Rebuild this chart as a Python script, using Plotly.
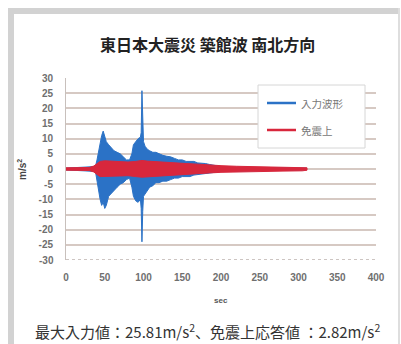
import plotly.graph_objects as go

# Input acceleration record (north-south component), envelope of the trace in m/s^2
input_t = [0, 38, 40, 42, 44, 46, 48, 50, 52, 55, 58, 62, 66, 70, 74, 78, 82, 85, 87, 90,
           93, 96, 97, 98, 99, 100, 102, 105, 108, 112, 116, 120, 125, 130, 135, 140, 145,
           150, 155, 160, 165, 170, 175, 180, 185, 190, 195, 200, 210, 230, 250, 270, 290, 310]
input_hi = [0.3, 0.8, 3, 6, 9, 11, 12.5, 11, 9, 8, 7, 6, 5.5, 5, 4, 3, 3, 5, 8, 9,
            10, 10.5, 12, 25.81, 12, 9, 7.5, 6.5, 6, 5.5, 5.5, 5, 4.5, 4.2, 4, 3.5, 3,
            3, 2.5, 2.5, 2.5, 2, 2, 1.8, 1.5, 1.2, 1, 0.8, 0.6, 0.5, 0.5, 0.4, 0.4, 0.3]
input_lo = [-0.3, -0.8, -3, -7, -10, -12, -11, -13, -12, -9, -8, -7, -6, -5, -4.5, -3.5, -3, -6, -9, -10.5,
            -11, -10, -13, -24, -14, -9, -8, -7, -6, -5.5, -4.5, -4.5, -4, -4, -3.5, -3, -3,
            -2.5, -2.5, -2.5, -2, -2, -1.8, -1.6, -1.4, -1.2, -1, -0.8, -0.6, -0.5, -0.5, -0.4, -0.4, -0.3]

# Response on the isolated floor (免震上), envelope in m/s^2
resp_t = [0, 30, 36, 40, 44, 50, 60, 70, 80, 90, 98, 105, 115, 125, 140, 155, 170, 185,
          200, 220, 250, 280, 305, 311]
resp_hi = [0.4, 0.5, 1, 1.8, 2.5, 2.7, 2.5, 2.4, 2.3, 2.5, 2.82, 2.6, 2.4, 2.2, 2.0, 1.8, 1.6, 1.3,
           1.1, 0.9, 0.8, 0.7, 0.6, 0.4]
resp_lo = [-0.4, -0.5, -1, -1.8, -2.5, -2.6, -2.4, -2.3, -2.2, -2.5, -2.7, -2.5, -2.3, -2.1, -1.9, -1.7, -1.5, -1.3,
           -1.1, -0.9, -0.8, -0.7, -0.6, -0.4]

series_names = ["入力波形", "免震上"]
series_colors = ["#2b72c6", "#d8273c"]

x_ticks = [0, 50, 100, 150, 200, 250, 300, 350, 400]
y_ticks = [30, 25, 20, 15, 10, 5, 0, -5, -10, -15, -20, -25, -30]

title_text = "東日本大震災 築館波 南北方向"
caption_text = "最大入力値：25.81m/s<sup>2</sup>、免震上応答値 ：2.82m/s<sup>2</sup>"

W, H = 401, 344
L, R, T, B = 66, 25, 78, 84
PW, PH = W - L - R, H - T - B


def px(x):
    return (x - L) / PW


def py(y):
    return (H - B - y) / PH


def band(t, hi, lo):
    return list(t) + list(t[::-1]), list(hi) + list(lo[::-1])


fig = go.Figure()
for (t, hi, lo), name, col in zip([(input_t, input_hi, input_lo), (resp_t, resp_hi, resp_lo)],
                                   series_names, series_colors):
    bx, by = band(t, hi, lo)
    fig.add_trace(go.Scatter(x=bx, y=by, fill="toself", fillcolor=col, mode="lines",
                             line=dict(color=col, width=1), name=name, showlegend=False,
                             hoverinfo="skip"))

shapes = []
# outer frame
frame = "#d2d2d2"
shapes.append(dict(type="rect", xref="paper", yref="paper", x0=px(8), x1=px(14), y0=py(346), y1=py(8),
                   fillcolor=frame, line=dict(width=0), layer="below"))
shapes.append(dict(type="rect", xref="paper", yref="paper", x0=px(8), x1=px(400), y0=py(14), y1=py(8),
                   fillcolor=frame, line=dict(width=0), layer="below"))
shapes.append(dict(type="rect", xref="paper", yref="paper", x0=px(398), x1=px(400), y0=py(346), y1=py(8),
                   fillcolor="#dedede", line=dict(width=0), layer="below"))

# dotted category axis along the bottom of the plot
shapes.append(dict(type="line", xref="paper", yref="y", x0=0, x1=1, y0=-30, y1=-30,
                   line=dict(color="#bdb3ae", width=1.5, dash="dot"), layer="below"))

# legend box
lx0, lx1, ly0, ly1 = 258, 365, 85, 148
shapes.append(dict(type="rect", xref="paper", yref="paper", x0=px(lx0), x1=px(lx1), y0=py(ly1), y1=py(ly0),
                   fillcolor="white", line=dict(color="#d6d6d6", width=1), layer="above"))
annotations = []
for i, (name, col) in enumerate(zip(series_names, series_colors)):
    yy = 103 + 27 * i
    shapes.append(dict(type="line", xref="paper", yref="paper", x0=px(267), x1=px(296), y0=py(yy), y1=py(yy),
                       line=dict(color=col, width=2.5), layer="above"))
    annotations.append(dict(text=name, xref="paper", yref="paper", x=px(299), y=py(yy), xanchor="left",
                            yanchor="middle", showarrow=False,
                            font=dict(size=10.5, color="#777777", family="Noto Sans CJK JP")))

annotations.append(dict(text=title_text, xref="paper", yref="paper", x=px(207), y=py(44),
                        xanchor="center", yanchor="middle", showarrow=False,
                        font=dict(size=16, color="#222222", family="Noto Sans CJK JP", weight="bold")))
annotations.append(dict(text=caption_text, xref="paper", yref="paper", x=px(207), y=py(331),
                        xanchor="center", yanchor="middle", showarrow=False,
                        font=dict(size=15, color="#333333", family="Noto Sans CJK JP")))
annotations.append(dict(text="m/s<sup>2</sup>", xref="paper", yref="paper", x=px(22), y=py(170),
                        xanchor="center", yanchor="middle", showarrow=False, textangle=-90,
                        font=dict(size=10, color="#444444", family="Liberation Sans", weight="bold")))
annotations.append(dict(text="sec", xref="paper", yref="paper", x=px(221), y=py(300),
                        xanchor="center", yanchor="middle", showarrow=False,
                        font=dict(size=8, color="#555555", family="Liberation Sans", weight="bold")))

tick_font = dict(size=10, color="#6f6f6f", family="Liberation Sans Narrow, Liberation Sans", weight="bold")

fig.update_layout(
    width=W, height=H, margin=dict(l=L, r=R, t=T, b=B),
    paper_bgcolor="white", plot_bgcolor="white",
    shapes=shapes, annotations=annotations, showlegend=False,
    xaxis=dict(range=[0, 400], tickvals=x_ticks, ticktext=[str(v) for v in x_ticks],
               showgrid=False, zeroline=False, showline=False, ticks="", ticklabelstandoff=10,
               tickfont=tick_font),
    yaxis=dict(range=[-30, 30], tickvals=y_ticks[:-1], ticktext=[str(v) for v in y_ticks[:-1]],
               showgrid=True, gridcolor="#d6c9c3", gridwidth=1.5, zeroline=False,
               showline=True, linecolor="#c8c0bc", linewidth=1, ticks="", ticklabelstandoff=10,
               tickfont=tick_font),
)
# bottom tick label sits on the dotted axis line rather than a gridline
fig.add_annotation(text=str(y_ticks[-1]), xref="paper", yref="y", x=px(L - 10), y=-30,
                   xanchor="right", yanchor="middle", showarrow=False, font=tick_font)

fig.write_html("out.html")
